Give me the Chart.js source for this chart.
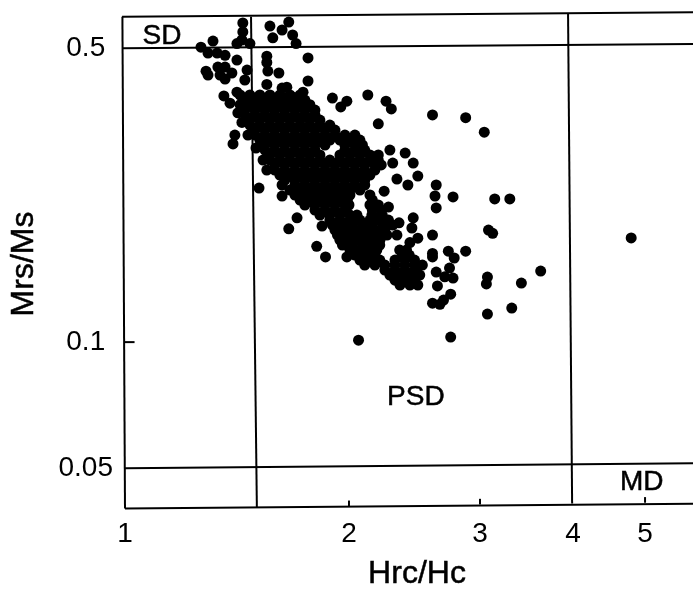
<!DOCTYPE html>
<html>
<head>
<meta charset="utf-8">
<title>Day plot</title>
<script src="https://cdn.jsdelivr.net/npm/chart.js@4"></script>
<style>
html, body { margin: 0; padding: 0; background: #fff; }
canvas { display: block; }
</style>
</head>
<body>
<canvas id="chart-day" width="693" height="589"></canvas>
<script>
X_TICKS = [1, 2, 3, 4, 5]
Y_TICKS = [0.05, 0.1, 0.5]

// samples above and around the SD corner: [Hrc/Hc, Mrs/Ms]
SD_CORNER = [
    [1.265, .5027], [1.313, .52], [1.44, .574], [1.44, .5465], [1.414, .513], [1.472, .513],
    [1.436, .523], [1.566, .5645], [1.58, .5292], [1.626, .5524], [1.66, .577], [1.68, .5375],
    [1.698, .513], [1.293, .487], [1.33, .487], [1.363, .481], [1.414, .4687], [1.285, .441],
    [1.293, .4316], [1.333, .451], [1.363, .451], [1.342, .4316], [1.363, .4224], [1.392, .4365],
    [1.459, .4437], [1.449, .4201], [1.551, .4787], [1.551, .4625], [1.556, .4412], [1.61, .4365],
    [1.762, .474], [1.762, .4178], [1.358, .385], [1.414, .393], [1.551, .41], [1.626, .402],
    [1.65, .404], [1.68, .3825], [1.735, .393], [1.384, .37], [1.418, .351], [1.436, .333],
    [1.405, .3108], [1.397, .296], [1.463, .3108], [1.5, .2895], [1.533, .271], [1.551, .2566]
]

// dots just outside the dense cloud
CLOUD_EDGE = [
    [1.514, .2325], [1.626, .2225], [1.703, .1975], [1.66, .186], [1.84, .1888], [1.81, .169],
    [1.86, .1594], [1.987, .1594], [2.12, .387], [2.243, .374], [2.28, .3585], [2.19, .3305],
    [1.9, .3805], [1.987, .374], [1.95, .3625], [2.27, .2863], [2.38, .2815], [2.29, .2665],
    [2.44, .2665], [2.32, .2442], [2.4, .2364], [2.475, .2482], [2.23, .2285], [2.26, .2095],
    [2.335, .1922], [2.44, .1975], [2.43, .1868], [2.475, .1767], [2.415, .1725], [2.32, .1797],
    [2.069, .2299], [2, .2119], [2.05, .2005]
]

// scattered dots on the right
RIGHT_SIDE = [
    [2.59, .1797], [2.62, .2364], [2.61, .2226], [2.62, .2085], [2.76, .2215], [2.72, .1645],
    [2.77, .1585], [2.87, .1645], [2.59, .1625], [2.59, .1594], [2.73, .15], [2.62, .1468],
    [2.76, .142], [2.69, .143], [2.63, .136], [2.74, .13], [2.68, .1259], [2.59, .1238],
    [2.65, .123], [3.14, .219], [3.29, .219], [3.08, .1847], [3.12, .1815], [3.07, .1428],
    [3.06, .1375], [3.07, .1166], [3.31, .1205], [3.41, .1382], [3.62, .1476], [3.04, .3157],
    [2.87, .3418], [2.59, .3469], [2.74, .1028], [2.06, .1011], [4.79, .1769]
]

// dense cloud read band by band: one Mrs/Ms level, several Hrc/Hc
CLOUD_MRS = [.387, .367, .3469, .3283, .3108, .2943, .2786, .2638, .2497, .2364,
             .2238, .2119, .2005, .1898, .1797, .1702, .1611, .1525, .1444, .1367]
CLOUD_HRC = [
    [1.428, 1.472, 1.518, 1.566, 1.615, 1.666, 1.719],
    [1.428, 1.472, 1.518, 1.566, 1.615, 1.666, 1.719, 1.772],
    [1.449, 1.495, 1.542, 1.59, 1.64, 1.692, 1.745, 1.8],
    [1.472, 1.518, 1.566, 1.615, 1.666, 1.719, 1.772, 1.828, 1.885],
    [1.495, 1.542, 1.59, 1.64, 1.692, 1.745, 1.8, 1.857, 1.915, 1.975, 2.037],
    [1.542, 1.59, 1.64, 1.692, 1.745, 1.8, 1.857, 1.975, 2.037, 2.085],
    [1.566, 1.615, 1.666, 1.719, 1.772, 1.828, 1.945, 2.006, 2.069, 2.134, 2.19],
    [1.59, 1.64, 1.692, 1.745, 1.8, 1.857, 1.915, 1.975, 2.037, 2.1, 2.167, 2.21],
    [1.615, 1.666, 1.719, 1.772, 1.828, 1.885, 1.945, 2.006, 2.069, 2.134],
    [1.626, 1.692, 1.745, 1.8, 1.857, 1.915, 1.975, 2.037, 2.1],
    [1.692, 1.745, 1.8, 1.857, 1.915, 1.975, 2.006, 2.134],
    [1.745, 1.8, 1.857, 1.915, 1.975, 2.134, 2.19],
    [1.828, 1.885, 1.945, 2.006, 2.147, 2.217],
    [1.9, 1.96, 2.02, 2.085, 2.15, 2.22, 2.29],
    [1.93, 1.99, 2.05, 2.116, 2.18, 2.25],
    [1.96, 2.02, 2.085, 2.15, 2.2],
    [2.037, 2.1, 2.167, 2.36, 2.41],
    [2.1, 2.167, 2.235, 2.306, 2.378, 2.452, 2.51],
    [2.27, 2.342, 2.415, 2.49],
    [2.342, 2.415, 2.475]
]

// second pass over the cloud, the levels in between
CLOUD2_MRS = [.3765, .3564, .3374, .3194, .3024, .2863, .271, .2566, .2429, .2299,
              .2177, .2061, .1951, .1847, .1748, .1655, .1567, .1484, .1404]
CLOUD2_HRC = [
    [1.449, 1.495, 1.542, 1.59, 1.64, 1.692, 1.745],
    [1.449, 1.495, 1.542, 1.59, 1.64, 1.692, 1.745, 1.8],
    [1.472, 1.518, 1.566, 1.615, 1.666, 1.719, 1.772, 1.828],
    [1.495, 1.542, 1.59, 1.64, 1.692, 1.745, 1.8, 1.857, 1.915],
    [1.518, 1.566, 1.615, 1.666, 1.719, 1.772, 1.828, 1.885, 1.945, 2.006, 2.069],
    [1.542, 1.59, 1.64, 1.692, 1.745, 1.8, 1.975, 2.037, 2.1],
    [1.566, 1.615, 1.666, 1.719, 1.772, 1.828, 1.885, 1.945, 2.006, 2.069, 2.134, 2.19],
    [1.59, 1.64, 1.692, 1.745, 1.8, 1.857, 1.915, 1.975, 2.037, 2.1, 2.167],
    [1.64, 1.692, 1.745, 1.8, 1.857, 1.915, 1.975, 2.037, 2.1],
    [1.666, 1.719, 1.772, 1.828, 1.885, 1.945, 2.006],
    [1.719, 1.772, 1.828, 1.885, 1.945, 1.99, 2.15],
    [1.8, 1.857, 1.915, 1.975, 2.15, 2.21],
    [1.885, 1.945, 2.006, 2.069, 2.134, 2.2, 2.26],
    [1.915, 1.975, 2.037, 2.1, 2.167, 2.235],
    [1.945, 2.006, 2.069, 2.134, 2.201],
    [2.006, 2.069, 2.134, 2.18, 2.34, 2.39],
    [2.069, 2.134, 2.2, 2.306, 2.378, 2.45],
    [2.235, 2.306, 2.378, 2.452],
    [2.306, 2.378, 2.452]
]

// the scanned frame and the domain limits lean a little
FRAME_TOP = [[.991, .594], [5.8, .609]]
FRAME_LEFT = [[.992, .594], [1, .0402]]
FRAME_BOTTOM = [[1, .0402], [5.8, .04126]]
LIMIT_SD = [[.991, .5], [5.8, .512]]
LIMIT_MD = [[1, .0501], [5.8, .0515]]
LIMIT_HRC_15 = [[1.477, .594], [1.504, .0405]]
LIMIT_HRC_4 = [[3.94, .604], [3.99, .0413]]
TICK_X2 = [[2, .0407], [2, .042]]
TICK_X3 = [[3, .0411], [3, .0424]]
TICK_X5 = [[5, .0415], [5, .0428]]
TICK_Y01 = [[1, .1], [1.03, .1]]

REGION_LABELS = [["SD", 1.121, .535], ["PSD", 2.46, .0739], ["MD", 4.95, .0464]]

FONT = "Liberation Sans, Arial, sans-serif"

function toPoints(pairs)
{
    return pairs.map(p => ({x: p[0], y: p[1]}))
}

function cloudPoints(levels, rows)
{
    var out = []
    for (let i = 0; i < levels.length; i++)
        for (const hrc of rows[i])
            out.push({x: hrc, y: levels[i]})
    return out
}

function lineSet(pairs)
{
    return {
        type: "line",
        data: toPoints(pairs),
        borderColor: "#000",
        borderWidth: 2,
        pointRadius: 0,
        fill: false,
        clip: false
    }
}

function heavyText(ctx, text, x, y)
{
    // the scan thickens the lettering a bit
    ctx.fillText(text, x, y)
    ctx.strokeText(text, x, y)
}

var textPlugin = {
    id: "texts",
    afterDraw(chart) {
        var ctx = chart.ctx
        ctx.save()
        ctx.fillStyle = "#000"
        ctx.strokeStyle = "#000"
        ctx.lineWidth = .5
        ctx.textAlign = "center"
        ctx.textBaseline = "middle"
        ctx.font = "28px " + FONT
        for (const [text, x, y] of REGION_LABELS)
            heavyText(ctx, text, chart.scales.x.getPixelForValue(x), chart.scales.y.getPixelForValue(y))

        ctx.font = "32px " + FONT
        heavyText(ctx, "Hrc/Hc", 417, 574)
        ctx.translate(24, 264)
        ctx.rotate(-Math.PI / 2)
        heavyText(ctx, "Mrs/Ms", 0, 0)
        ctx.restore()
    }
}

new Chart("chart-day", {
    type: "scatter",
    plugins: [textPlugin],
    data: {
        datasets: [
            lineSet(FRAME_TOP), lineSet(FRAME_LEFT), lineSet(FRAME_BOTTOM),
            lineSet(LIMIT_SD), lineSet(LIMIT_MD), lineSet(LIMIT_HRC_15), lineSet(LIMIT_HRC_4),
            lineSet(TICK_X2), lineSet(TICK_X3), lineSet(TICK_X5), lineSet(TICK_Y01),
            {
                data: toPoints(SD_CORNER).concat(toPoints(CLOUD_EDGE), toPoints(RIGHT_SIDE),
                    cloudPoints(CLOUD_MRS, CLOUD_HRC), cloudPoints(CLOUD2_MRS, CLOUD2_HRC)),
                backgroundColor: "#000",
                borderColor: "#000",
                pointRadius: 5.5,
                borderWidth: 0,
                clip: false
            }
        ]
    },
    options: {
        responsive: false,
        animation: false,
        layout: {autoPadding: false, padding: {top: 11, right: 0, left: 0, bottom: 0}},
        plugins: {legend: {display: false}, tooltip: {enabled: false}},
        scales: {
            x: {
                type: "logarithmic",
                min: .9877,
                max: 5.8,
                grid: {display: false},
                border: {display: false},
                afterBuildTicks: s => { s.ticks = X_TICKS.map(v => ({value: v})) },
                afterFit: s => { s.height = 80; s.paddingLeft = 0; s.paddingRight = 0 },
                ticks: {
                    callback: v => String(v),
                    color: "#000",
                    font: {family: FONT, size: 28},
                    padding: 0,
                    autoSkip: false,
                    maxRotation: 0
                }
            },
            y: {
                type: "logarithmic",
                min: .0401,
                max: .613,
                grid: {display: false},
                border: {display: false},
                afterBuildTicks: s => { s.ticks = Y_TICKS.map(v => ({value: v})) },
                afterFit: s => { s.width = 121; s.paddingTop = 0; s.paddingBottom = 0 },
                ticks: {
                    callback: v => String(v),
                    color: "#000",
                    font: {family: FONT, size: 28},
                    crossAlign: "center",
                    padding: 0,
                    autoSkip: false
                }
            }
        }
    }
})
</script>
</body>
</html>
